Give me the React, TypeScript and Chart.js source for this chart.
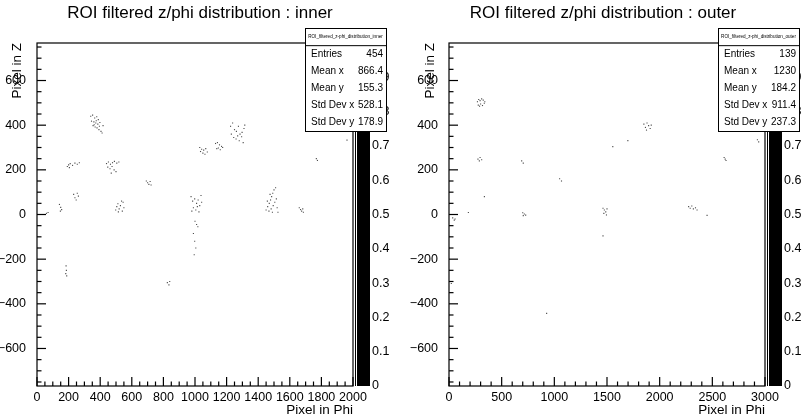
import React, { useEffect, useRef } from "react";
import { Chart, registerables } from "chart.js";

Chart.register(...registerables);

// ---------- data ----------
const innerX = [
  340, 352, 365, 378, 388, 345, 360, 372, 385, 398, 355, 368, 380, 392, 405, 412, 418, 395, 375, 362,
  1030, 1042, 1055, 1068, 1078, 1050, 1063, 1035,
  1130, 1142, 1155, 1168, 1148, 1160, 1175, 1138,
  1225, 1238, 1250, 1262, 1275, 1285, 1298, 1310, 1245, 1260, 1280, 1295, 1305, 1230, 1270, 1315,
  192, 200, 210, 225, 240, 255, 268, 205,
  440, 452, 465, 478, 490, 505, 518, 448, 462, 475, 488, 500, 470,
  692, 700, 708, 716, 722,
  232, 240, 255, 262, 248,
  142, 150, 156, 148, 70, 60,
  498, 505, 512, 520, 528, 535, 545, 540, 515, 550,
  975, 985, 998, 1010, 1020, 1030, 1042, 990, 1005, 1015, 1025, 980, 1038,
  1000, 1010, 1018, 990, 998, 1005, 995,
  1450, 1460, 1470, 1478, 1485, 1492, 1500, 1510, 1468, 1482, 1495, 1505, 1515, 1520, 1525, 1458, 1475, 1490,
  1660, 1668, 1675, 1682, 1686,
  1775, 1768, 1962,
  184, 186, 182, 188,
  825, 835, 840,
];
const innerY = [
  440, 445, 432, 438, 425, 418, 415, 410, 405, 412, 398, 392, 388, 380, 372, 365, 398, 395, 420, 402,
  300, 292, 288, 295, 280, 275, 270, 282,
  318, 322, 312, 305, 298, 290, 300, 295,
  395, 410, 380, 372, 395, 360, 368, 385, 345, 338, 330, 348, 322, 360, 352, 400,
  215, 222, 228, 220, 230, 225, 232, 210,
  228, 235, 225, 232, 238, 230, 235, 212, 205, 215, 200, 192, 185,
  150, 142, 135, 148, 132,
  90, 75, 95, 82, 65,
  45, 32, 22, 15, 9, 5,
  20, 35, 48, 25, 40, 60, 55, 15, 12, 30,
  80, 60, 70, 50, 65, 40, 55, 30, 20, 35, 12, 15, 85,
  -30, -45, -55, -85, -120, -150, -180,
  20, 35, 50, 65, 80, 95, 110, 120, 15, 25, 40, 55, 70, 30, 10, 60, 90, 10,
  30, 22, 15, 25, 10,
  242, 250, 333,
  -230, -250, -265, -275,
  -305, -315, -300,
];

const outerX = [
  270, 282, 295, 310, 325, 340, 278, 300, 318, 335, 290,
  275, 295, 310, 288,
  690, 705,
  1050, 1068,
  1555, 1698,
  1850, 1865, 1880, 1895, 1910, 1920, 1875,
  336, 184,
  35, 50, 58,
  700, 715, 728, 705,
  1462, 1475, 1488, 1500, 1470, 1495,
  1462,
  2928, 2940,
  2612, 2622, 2630,
  2275, 2290, 2305, 2320, 2340, 2355,
  2450, 927, 22,
];
const outerY = [
  505, 515, 510, 518, 512, 505, 490, 495, 488, 498, 485,
  248, 255, 245, 240,
  240, 230,
  160, 150,
  304, 331,
  405, 390, 410, 398, 385, 400, 378,
  80, 9,
  -15, -25, -20,
  8, 2, -3, -5,
  28, 20, 12, 25, 5, -2,
  -96,
  335, 325,
  255, 248, 242,
  35, 28, 38, 25, 30, 20,
  -4, -443, -309,
];

const innerXTicks = [0, 200, 400, 600, 800, 1000, 1200, 1400, 1600, 1800, 2000];
const outerXTicks = [0, 500, 1000, 1500, 2000, 2500, 3000];
const yTicks = [-600, -400, -200, 0, 200, 400, 600];
const paletteTicks = [0, 0.1, 0.2, 0.3, 0.4, 0.5, 0.6, 0.7, 0.8, 0.9];
const statLabels = ["Entries", "Mean x", "Mean y", "Std Dev x", "Std Dev y"];
const innerStats = ["454", "866.4", "155.3", "528.1", "178.9"];
const outerStats = ["139", "1230", "184.2", "911.4", "237.3"];

const FONT = "'Liberation Sans', Arial, Helvetica, sans-serif";

type PanelCfg = {
  title: string;
  histName: string;
  xs: number[];
  ys: number[];
  xMax: number;
  xTicks: number[];
  xMinor: number;
  stats: string[];
  plotLeft: number;
  plotRight: number;
  statsLeft: number;
  statsRight: number;
  yTitleX: number;
};

const W = 403;
const H = 417;
const PLOT_TOP = 43;
const PLOT_BOTTOM = 386;

function Panel({ cfg, left }: { cfg: PanelCfg; left: number }) {
  const ref = useRef<HTMLCanvasElement | null>(null);
  useEffect(() => {
    if (!ref.current) return;
    const deco = {
      id: "deco",
      beforeDraw(chart: any) {
        const ctx = chart.ctx;
        ctx.save();
        ctx.fillStyle = "#fff";
        ctx.fillRect(0, 0, chart.width, chart.height);
        ctx.restore();
      },
      afterDraw(chart: any) {
        const ctx = chart.ctx as CanvasRenderingContext2D;
        const a = chart.chartArea;
        const xs = chart.scales.x;
        const ys = chart.scales.y;
        ctx.save();
        ctx.strokeStyle = "#000";
        ctx.fillStyle = "#000";
        ctx.lineWidth = 1.2;
        // frame
        ctx.strokeRect(a.left, a.top, a.right - a.left, a.bottom - a.top);
        // y ticks
        for (let v = -750; v <= 750; v += 50) {
          const py = ys.getPixelForValue(v);
          const len = v % 200 === 0 ? 9 : 4.5;
          ctx.beginPath();
          ctx.moveTo(a.left, py);
          ctx.lineTo(a.left + len, py);
          ctx.stroke();
        }
        // x ticks
        const major = cfg.xTicks[1] - cfg.xTicks[0];
        for (let v = 0; v <= cfg.xMax; v += cfg.xMinor) {
          const px = xs.getPixelForValue(v);
          const len = v % major === 0 ? 9 : 4.5;
          ctx.beginPath();
          ctx.moveTo(px, a.bottom);
          ctx.lineTo(px, a.bottom - len);
          ctx.stroke();
        }
        // palette
        const palL = a.right + 2.5;
        const palR = a.right + 17;
        ctx.lineWidth = 1;
        ctx.beginPath();
        ctx.moveTo(palL, a.top);
        ctx.lineTo(palL, a.bottom);
        ctx.stroke();
        ctx.fillRect(palL + 1.5, a.top, palR - palL - 1.5, a.bottom - a.top);
        ctx.font = `12.5px ${FONT}`;
        ctx.textAlign = "left";
        ctx.textBaseline = "middle";
        for (const t of paletteTicks) {
          const py = a.bottom - t * (a.bottom - a.top);
          ctx.fillText(String(t), palR + 2, py);
        }
        // stats box
        const sL = cfg.statsLeft;
        const sR = cfg.statsRight;
        const sT = 28;
        const sB = 131;
        const rowH = (sB - sT) / 6;
        ctx.fillStyle = "#fff";
        ctx.fillRect(sL, sT, sR - sL, sB - sT);
        ctx.strokeStyle = "#000";
        ctx.lineWidth = 1;
        ctx.strokeRect(sL + 0.5, sT + 0.5, sR - sL, sB - sT);
        ctx.beginPath();
        ctx.moveTo(sL, sT + rowH + 0.5);
        ctx.lineTo(sR, sT + rowH + 0.5);
        ctx.stroke();
        ctx.fillStyle = "#000";
        ctx.font = `4.6px ${FONT}`;
        ctx.textAlign = "center";
        ctx.fillText(cfg.histName, (sL + sR) / 2, sT + rowH / 2);
        ctx.font = `10px ${FONT}`;
        for (let i = 0; i < statLabels.length; i++) {
          const cy = sT + rowH * (i + 1.5);
          ctx.textAlign = "left";
          ctx.fillText(statLabels[i], sL + 6, cy);
          ctx.textAlign = "right";
          ctx.fillText(cfg.stats[i], sR - 3, cy);
        }
        // title
        ctx.font = `17px ${FONT}`;
        ctx.textAlign = "center";
        ctx.fillText(cfg.title, 200, 13);
        // x title
        ctx.font = `13.5px ${FONT}`;
        ctx.textAlign = "right";
        ctx.fillText("Pixel in Phi", a.right, 410);
        // y title
        ctx.save();
        ctx.translate(cfg.yTitleX, a.top);
        ctx.rotate(-Math.PI / 2);
        ctx.textAlign = "right";
        ctx.fillText("Pixel in Z", 0, 0);
        ctx.restore();
        ctx.restore();
      },
    };

    const chart = new Chart(ref.current, {
      type: "scatter",
      data: {
        datasets: [
          {
            data: cfg.xs.map((x, i) => ({ x, y: cfg.ys[i] })),
            pointStyle: "rect",
            pointRadius: 0.8,
            pointHoverRadius: 0.8,
            backgroundColor: "rgba(0,0,0,0.7)",
            borderWidth: 0,
          },
        ],
      },
      options: {
        animation: false,
        responsive: false,
        maintainAspectRatio: false,
        devicePixelRatio: 1,
        events: [],
        layout: { padding: { top: PLOT_TOP, right: W - cfg.plotRight, left: 0, bottom: 0 } },
        plugins: { legend: { display: false }, tooltip: { enabled: false }, title: { display: false } },
        scales: {
          x: {
            type: "linear",
            min: 0,
            max: cfg.xMax,
            afterFit: (s: any) => {
              s.height = H - PLOT_BOTTOM;
            },
            afterBuildTicks: (s: any) => {
              s.ticks = cfg.xTicks.map((v) => ({ value: v }));
            },
            ticks: {
              autoSkip: false,
              maxRotation: 0,
              padding: -4,
              color: "#000",
              font: { family: FONT, size: 12.5 },
              callback: (v: any) => String(v),
            },
            grid: { display: false },
            border: { display: false },
          },
          y: {
            type: "linear",
            min: -768,
            max: 768,
            afterFit: (s: any) => {
              s.width = cfg.plotLeft;
            },
            afterBuildTicks: (s: any) => {
              s.ticks = yTicks.map((v) => ({ value: v }));
            },
            ticks: {
              autoSkip: false,
              padding: 3,
              color: "#000",
              font: { family: FONT, size: 12.5 },
              callback: (v: any) => (v < 0 ? "\u2212" + Math.abs(v) : String(v)),
            },
            grid: { display: false },
            border: { display: false },
          },
        },
      },
      plugins: [deco],
    } as any);
    return () => chart.destroy();
  }, [cfg]);
  return (
    <canvas
      ref={ref}
      width={W}
      height={H}
      style={{ position: "absolute", left, top: 0, width: W, height: H }}
    />
  );
}

const innerCfg: PanelCfg = {
  title: "ROI filtered z/phi distribution : inner",
  histName: "ROI_filtered_z-phi_distribution_inner",
  xs: innerX,
  ys: innerY,
  xMax: 2000,
  xTicks: innerXTicks,
  xMinor: 50,
  stats: innerStats,
  plotLeft: 37,
  plotRight: 353,
  statsLeft: 305,
  statsRight: 386,
  yTitleX: 17,
};

const outerCfg: PanelCfg = {
  title: "ROI filtered z/phi distribution : outer",
  histName: "ROI_filtered_z-phi_distribution_outer",
  xs: outerX,
  ys: outerY,
  xMax: 3000,
  xTicks: outerXTicks,
  xMinor: 100,
  stats: outerStats,
  plotLeft: 46,
  plotRight: 362,
  statsLeft: 315,
  statsRight: 396,
  yTitleX: 27,
};

export default function App() {
  return (
    <div style={{ position: "fixed", left: 0, top: 0, width: 806, height: 417, background: "#fff" }}>
      <Panel cfg={innerCfg} left={0} />
      <Panel cfg={outerCfg} left={403} />
    </div>
  );
}
